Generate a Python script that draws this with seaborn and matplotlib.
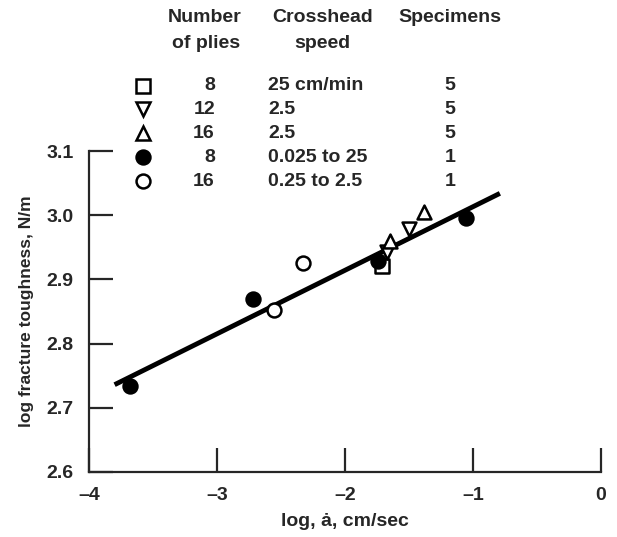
import matplotlib
matplotlib.use("Agg")
import matplotlib.pyplot as plt
import seaborn as sns
import pandas as pd

# data (log rate vs log toughness)
square_x = [-1.71]
square_y = [2.921]
tri_down_x = [-1.669, -1.501]
tri_down_y = [2.943, 2.978]
tri_up_x = [-1.651, -1.383]
tri_up_y = [2.960, 3.005]
filled_x = [-3.677, -2.72, -1.742, -1.054]
filled_y = [2.734, 2.869, 2.929, 2.995]
open_x = [-2.553, -2.331]
open_y = [2.853, 2.926]

# fitted line end points
line_x = [-3.80, -0.79]
line_y = [2.736, 3.034]

# legend table
plies = ["8", "12", "16", "8", "16"]
speeds = ["25 cm/min", "2.5", "2.5", "0.025 to 25", "0.25 to 2.5"]
specimens = ["5", "5", "5", "1", "1"]

x_ticks = [-4, -3, -2, -1, 0]
y_ticks = [2.6, 2.7, 2.8, 2.9, 3.0, 3.1]

sns.set_style("ticks")
plt.rcParams['font.family'] = ['Liberation Sans', 'DejaVu Sans']
plt.rcParams['font.weight'] = 'bold'

W, H = 617, 537
fig = plt.figure(figsize=(W / 100, H / 100), dpi=100)
ax = fig.add_axes([89 / W, 1 - 472 / H, 512 / W, 321 / H])

groups = [
    (square_x, square_y, "s", "white", 9.5),
    (tri_down_x, tri_down_y, "v", "white", 10),
    (tri_up_x, tri_up_y, "^", "white", 10),
    (filled_x, filled_y, "o", "black", 10),
    (open_x, open_y, "o", "white", 10),
]

ax.plot(line_x, line_y, color="black", lw=3.5, zorder=2, solid_capstyle="butt")
for gx, gy, mk, fc, ms in groups:
    df = pd.DataFrame({"x": gx, "y": gy})
    sns.scatterplot(data=df, x="x", y="y", marker=mk, s=ms ** 2, color=fc,
                    edgecolor="black", linewidth=1.8, ax=ax, zorder=3)

ax.set_xlim(-4, 0)
ax.set_ylim(2.6, 3.1)
ax.set_xticks(x_ticks)
ax.set_yticks(y_ticks)
ax.set_yticklabels([f"{v:.1f}" for v in y_ticks])
ax.set_xticklabels([f"{v}".replace("-", "\u2013") for v in x_ticks])
for side in ["top", "right"]:
    ax.spines[side].set_visible(False)
for side in ["left", "bottom"]:
    ax.spines[side].set_linewidth(1.6)
ax.tick_params(direction="in", length=17, width=1.6, labelsize=14, pad=11)
ax.set_xlabel("log, \u0227, cm/sec", fontsize=14, fontweight="bold", labelpad=6)
ax.set_ylabel("log fracture toughness, N/m", fontsize=12.5, fontweight="bold", labelpad=9)

# legend as a small table above the axes
fs = 14
fig.text(205 / W, 1 - 17 / H, "Number", ha="center", va="center", fontsize=fs)
fig.text(206 / W, 1 - 43 / H, "of plies", ha="center", va="center", fontsize=fs)
fig.text(323 / W, 1 - 17 / H, "Crosshead", ha="center", va="center", fontsize=fs)
fig.text(322 / W, 1 - 43 / H, "speed", ha="center", va="center", fontsize=fs)
fig.text(450 / W, 1 - 17 / H, "Specimens", ha="center", va="center", fontsize=fs)

row_y = [86, 109, 133, 157, 181]
for i, (gx, gy, mk, fc, ms) in enumerate(groups):
    yy = 1 - row_y[i] / H
    ax.plot([143 / W], [yy], marker=mk, ms=ms, mfc=fc, mec="black", mew=1.8,
            transform=fig.transFigure, clip_on=False)
    fig.text(215 / W, yy, plies[i], ha="right", va="center", fontsize=fs)
    fig.text(268 / W, yy, speeds[i], ha="left", va="center", fontsize=fs)
    fig.text(450 / W, yy, specimens[i], ha="center", va="center", fontsize=fs)

fig.savefig("out.png", dpi=100)
